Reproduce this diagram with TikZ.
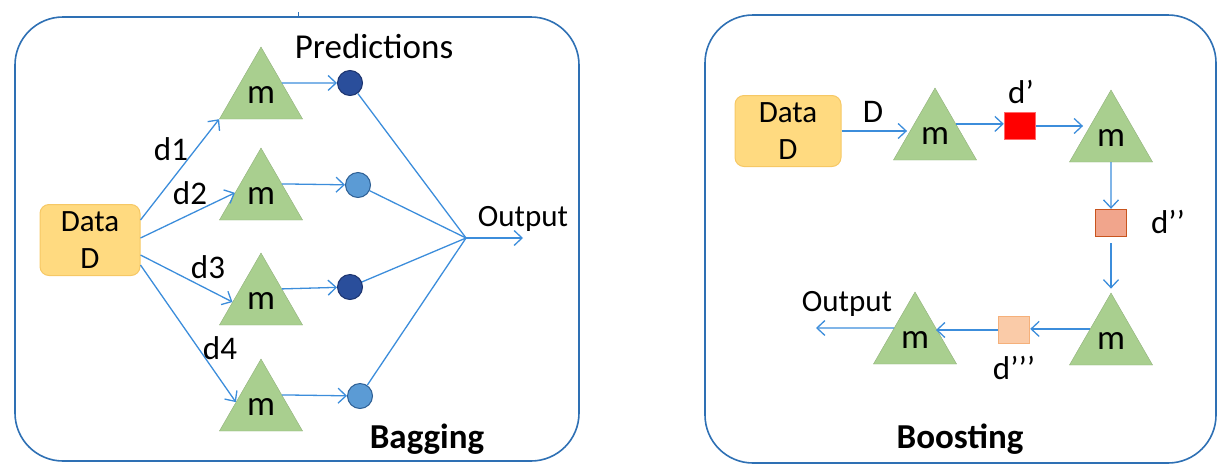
\documentclass[tikz,border=0pt]{standalone}
\usepackage{fontspec}
\setmainfont{Carlito}
\usetikzlibrary{arrows.meta,shapes.geometric}
\definecolor{frameblue}{HTML}{2E70B4}
\definecolor{arrblue}{HTML}{3C8DDB}
\definecolor{trifill}{HTML}{A9CF8F}
\definecolor{datafill}{HTML}{FFDA80}
\definecolor{databorder}{HTML}{F6C865}
\definecolor{darkc}{HTML}{2A4E9B}
\definecolor{darkcb}{HTML}{1B336E}
\definecolor{lightc}{HTML}{5B9BD5}
\definecolor{lightcb}{HTML}{2D5F94}
\definecolor{sqone}{HTML}{FF0000}
\definecolor{sqoneb}{HTML}{FF6A6A}
\definecolor{sqtwo}{HTML}{F1A58C}
\definecolor{sqtwob}{HTML}{C8541E}
\definecolor{sqthree}{HTML}{FACBA8}
\definecolor{sqthreeb}{HTML}{F5B07A}
\tikzset{
  panel/.style={draw=frameblue,line width=1.6pt,rounded corners=48pt},
  databox/.style={draw=databorder,fill=datafill,line width=1pt,rounded corners=9pt,
    minimum width=#1,minimum height=71pt,inner sep=0pt,align=center,
    font=\fontsize{31}{37}\selectfont},
  tri/.style={regular polygon,regular polygon sides=3,minimum size=96pt,inner sep=0pt,
    fill=trifill,draw=trifill!85!black,line width=0.4pt,font=\fontsize{35}{35}\selectfont},
  pred/.style={circle,minimum size=25pt,inner sep=0pt,line width=1pt},
  sq/.style={rectangle,minimum width=31pt,minimum height=27pt,inner sep=0pt,line width=1.4pt},
  arr/.style={draw=arrblue,line width=1.3pt,-{Straight Barb[length=8pt,width=15pt]}},
  ln/.style={draw=arrblue,line width=1.3pt},
  lbl/.style={font=\fontsize{33}{33}\selectfont,inner sep=0pt},
  ttl/.style={font=\fontsize{35}{35}\selectfont\bfseries,inner sep=0pt},
  outl/.style={font=\fontsize{31}{31}\selectfont,inner sep=0pt}
}
\begin{document}
\begin{tikzpicture}[x=1pt,y=-1pt]
\useasboundingbox (0,0) rectangle (1230,472);
% panels
\draw[panel] (15,17) rectangle (579,461);
\draw[frameblue,line width=1pt] (298,12) -- (298,17);
\draw[panel] (705,15) rectangle (1216,463);

% ---------- Bagging ----------
\node[databox=100pt] (data) at (90,240) {Data\\D};
\node[tri] (t1) at (261,95) {\raisebox{-7pt}{m}};
\node[tri] (t2) at (261,196) {\raisebox{-7pt}{m}};
\node[tri] (t3) at (261,301) {\raisebox{-7pt}{m}};
\node[tri] (t4) at (261,407) {\raisebox{-7pt}{m}};
\node[pred,fill=darkc,draw=darkcb] (c1) at (350,83) {};
\node[pred,fill=lightc,draw=lightcb] (c2) at (358,185) {};
\node[pred,fill=darkc,draw=darkcb] (c3) at (350,287) {};
\node[pred,fill=lightc,draw=lightcb] (c4) at (360,396) {};
\coordinate (join) at (466,238);
\coordinate (outend) at (523,238);

\draw[arr] ([yshift=20pt]data.east) -- (t1.corner 2);
\draw[arr] ([yshift=2pt]data.east) -- (t2.173);
\draw[arr] ([yshift=-15pt]data.east) -- (t3.182);
\draw[arr] ([yshift=-25pt]data.east) -- (t4.169);
\foreach \i in {1,...,4}{
  \draw[arr] (t\i.30) -- (c\i);
  \draw[ln] (c\i) -- (join);
}
\draw[arr] (join) -- (outend);

\node[lbl] (l1) at (171,149) {d1};
\node[lbl] (l2) at (190,193) {d2};
\node[lbl] (l3) at (208,267) {d3};
\node[lbl] (l4) at (220,348) {d4};
\node[font=\fontsize{35}{35}\selectfont,inner sep=0pt] (predl) at (374,46) {Predictions};
\node[outl] (outl) at (523,219) {Output};
\node[ttl] (bag) at (427,439) {Bagging};

% ---------- Boosting ----------
\node[databox=106pt] (data2) at (788,131) {Data\\D};
\node[tri] (t5) at (935,136) {\raisebox{-7pt}{m}};
\node[tri] (t6) at (1111,138) {\raisebox{-7pt}{m}};
\node[tri] (t7) at (1111,341) {\raisebox{-7pt}{m}};
\node[tri] (t8) at (915,340) {\raisebox{-7pt}{m}};
\node[sq,fill=sqone,draw=sqoneb] (s1) at (1020,126) {};
\node[sq,fill=sqtwo,draw=sqtwob] (s2) at (1111,223) {};
\node[sq,fill=sqthree,draw=sqthreeb] (s3) at (1014,330) {};
\coordinate (outR) at (816,328);

\draw[arr] (data2.east) -- (data2.east -| t5.west);
\draw[arr] (t5.30) -- (t5.30 -| s1.west);
\draw[arr] (s1.east) -- (s1.east -| t6.west);
\draw[arr] (t6.south) -- (s2.north);
\draw[arr,shorten <=6pt,shorten >=4pt] (s2.south) -- (t7.corner 1);
\draw[arr] (t7.150) -- (t7.150 -| s3.east);
\draw[arr] (s3.west) -- (s3.west -| t8.30);
\draw[arr] (t8.150) -- (outR);

\node[lbl] (dlab) at (873,112) {D};
\node[lbl] (dp) at (1021,92) {d’};
\node[lbl] (dpp) at (1168,222) {d’’};
\node[lbl] (dppp) at (1014,368) {d’’’};
\node[outl] (outl2) at (847,304) {Output};
\node[ttl] (boost) at (960,439) {Boosting};
\end{tikzpicture}
\end{document}
